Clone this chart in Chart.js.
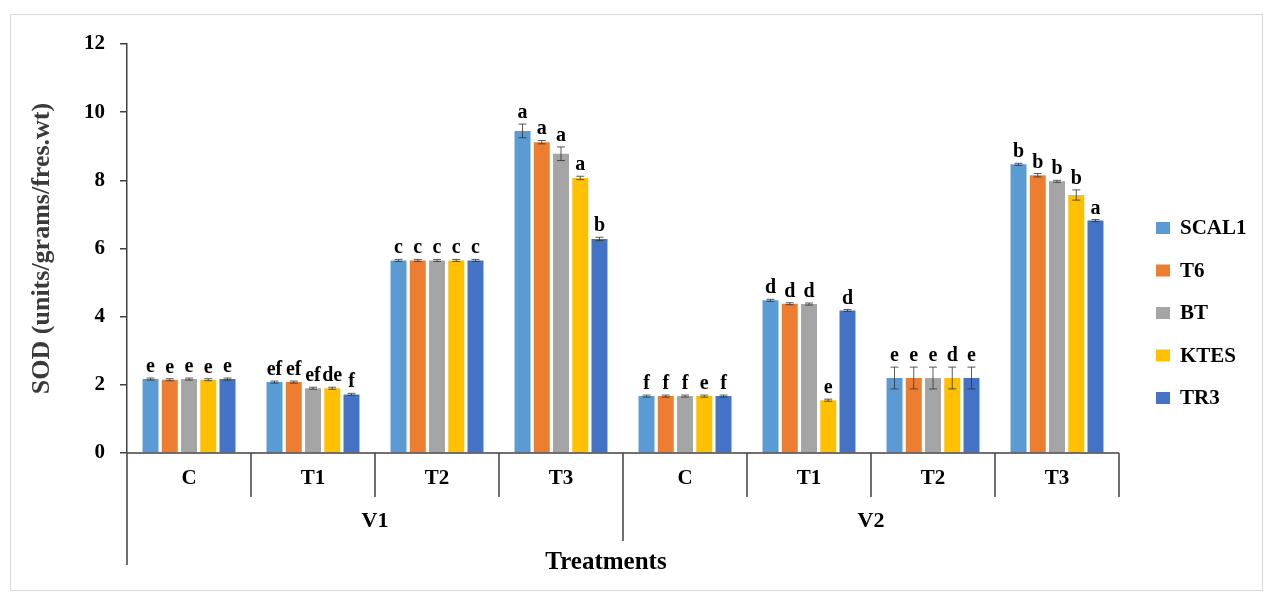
<!DOCTYPE html>
<html>
<head>
<meta charset="utf-8">
<title>SOD chart</title>
<script src="https://cdn.jsdelivr.net/npm/chart.js@4"></script>
<style>
  html, body { margin: 0; padding: 0; background: #fff; }
  #wrap { position: relative; width: 1273px; height: 597px; }
</style>
</head>
<body>
<div id="wrap"><canvas id="sodChart" width="1273" height="597"></canvas></div>
<script>
// categories (treatment within variety) and the variety groups
const categories = ['C', 'T1', 'T2', 'T3', 'C', 'T1', 'T2', 'T3'];
const groups = ['V1', 'V2'];
const seriesNames = ['SCAL1', 'T6', 'BT', 'KTES', 'TR3'];
const seriesColors = ['#5B9BD5', '#ED7D31', '#A5A5A5', '#FFC000', '#4472C4'];
const yTicks = [0, 2, 4, 6, 8, 10, 12];

// SOD values
const scal1 = [2.17, 2.08, 5.65, 9.45, 1.67, 4.48, 2.20, 8.47];
const t6    = [2.15, 2.08, 5.65, 9.12, 1.67, 4.38, 2.20, 8.15];
const bt    = [2.17, 1.90, 5.65, 8.78, 1.67, 4.37, 2.20, 7.97];
const ktes  = [2.15, 1.90, 5.65, 8.07, 1.67, 1.55, 2.20, 7.57];
const tr3   = [2.17, 1.72, 5.65, 6.28, 1.67, 4.18, 2.20, 6.82];

// error bar half widths
const scal1Err = [0.03, 0.03, 0.03, 0.20, 0.03, 0.03, 0.32, 0.03];
const t6Err    = [0.03, 0.03, 0.03, 0.05, 0.03, 0.03, 0.32, 0.05];
const btErr    = [0.03, 0.03, 0.03, 0.20, 0.03, 0.03, 0.32, 0.03];
const ktesErr  = [0.03, 0.03, 0.03, 0.05, 0.03, 0.03, 0.32, 0.15];
const tr3Err   = [0.03, 0.03, 0.03, 0.05, 0.03, 0.03, 0.32, 0.03];

// significance letters
const scal1Let = ['e', 'ef', 'c', 'a', 'f', 'd', 'e', 'b'];
const t6Let    = ['e', 'ef', 'c', 'a', 'f', 'd', 'e', 'b'];
const btLet    = ['e', 'ef', 'c', 'a', 'f', 'd', 'e', 'b'];
const ktesLet  = ['e', 'de', 'c', 'a', 'e', 'e', 'd', 'b'];
const tr3Let   = ['e', 'f', 'c', 'b', 'f', 'd', 'e', 'a'];

const seriesValues = [scal1, t6, bt, ktes, tr3];
const seriesErrors = [scal1Err, t6Err, btErr, ktesErr, tr3Err];
const seriesLetters = [scal1Let, t6Let, btLet, ktesLet, tr3Let];

const SERIF = '"Liberation Serif", "Times New Roman", serif';

const extrasPlugin = {
  id: 'extras',
  afterDatasetsDraw(chart) {
    const ctx = chart.ctx;
    const y = chart.scales.y;

    // error bars + letters
    ctx.save();
    chart.data.datasets.forEach((ds, di) => {
      const meta = chart.getDatasetMeta(di);
      meta.data.forEach((bar, i) => {
        const v = ds.data[i];
        const e = seriesErrors[di][i];
        const yTop = y.getPixelForValue(v + e);
        const yBot = y.getPixelForValue(v - e);
        ctx.strokeStyle = 'rgba(50,50,50,0.8)';
        ctx.lineWidth = 1;
        ctx.beginPath();
        ctx.moveTo(bar.x, yTop); ctx.lineTo(bar.x, yBot);
        ctx.moveTo(bar.x - 4, yTop); ctx.lineTo(bar.x + 4, yTop);
        ctx.moveTo(bar.x - 4, yBot); ctx.lineTo(bar.x + 4, yBot);
        ctx.stroke();

        ctx.fillStyle = '#000';
        ctx.font = 'bold 20px ' + SERIF;
        ctx.textAlign = 'center';
        ctx.textBaseline = 'alphabetic';
        ctx.fillText(seriesLetters[di][i], bar.x, yTop - 6);
      });
    });
    ctx.restore();
  },
  afterDraw(chart) {
    const ctx = chart.ctx;
    const area = chart.chartArea;
    const x = chart.scales.x;
    const n = categories.length;
    const step = (area.right - area.left) / n;

    ctx.save();
    ctx.strokeStyle = '#404040';
    ctx.lineWidth = 1.5;

    // x axis line
    ctx.beginPath();
    ctx.moveTo(area.left, area.bottom);
    ctx.lineTo(area.right, area.bottom);
    ctx.stroke();

    // category separators (long at group edges)
    for (let i = 0; i <= n; i++) {
      const bx = area.left + i * step;
      let len = 44;
      if (i === 0) len = 112;
      else if (i === n / 2) len = 88;
      ctx.beginPath();
      ctx.moveTo(bx, area.bottom);
      ctx.lineTo(bx, area.bottom + len);
      ctx.stroke();
    }

    ctx.fillStyle = '#000';
    ctx.textAlign = 'center';
    ctx.textBaseline = 'middle';
    ctx.font = 'bold 21px ' + SERIF;
    categories.forEach((c, i) => {
      ctx.fillText(c, x.getPixelForValue(i), area.bottom + 26);
    });

    ctx.font = 'bold 22px ' + SERIF;
    const half = (area.right - area.left) / groups.length;
    groups.forEach((g, i) => {
      ctx.fillText(g, area.left + half * (i + 0.5), area.bottom + 68);
    });

    ctx.font = 'bold 25px ' + SERIF;
    ctx.fillText('Treatments', (area.left + area.right) / 2 - 17, area.bottom + 110);

    // legend
    ctx.font = 'bold 21px ' + SERIF;
    ctx.textAlign = 'left';
    seriesNames.forEach((name, i) => {
      const ly = 228 + i * 42.5;
      ctx.fillStyle = seriesColors[i];
      ctx.fillRect(1156, ly - 6, 14, 12);
      ctx.fillStyle = '#000';
      ctx.fillText(name, 1180, ly + 1);
    });

    // outer frame
    ctx.strokeStyle = '#d9d9d9';
    ctx.lineWidth = 1;
    ctx.strokeRect(10.5, 14.5, 1252, 576);
    ctx.restore();
  }
};

new Chart(document.getElementById('sodChart'), {
  type: 'bar',
  data: {
    labels: categories,
    datasets: seriesNames.map((name, i) => ({
      label: name,
      data: seriesValues[i],
      backgroundColor: seriesColors[i],
      borderWidth: 0,
      barPercentage: 0.83,
      categoryPercentage: 0.776
    }))
  },
  options: {
    responsive: false,
    animation: false,
    layout: { padding: { left: 0, top: 44, right: 154, bottom: 144 }, autoPadding: false },
    plugins: {
      legend: { display: false },
      tooltip: { enabled: false }
    },
    scales: {
      x: { display: false },
      y: {
        min: 0,
        max: 12,
        afterFit: (s) => { s.width = 127; },
        afterBuildTicks: (s) => { s.ticks = yTicks.map(v => ({ value: v })); },
        ticks: {
          color: '#000',
          padding: 15,
          font: { family: SERIF, size: 21, weight: 'bold' }
        },
        grid: { drawOnChartArea: false, drawTicks: true, tickLength: 7, color: '#404040', lineWidth: 1.5 },
        border: { display: true, color: '#404040', width: 1.5 },
        title: {
          display: true,
          text: 'SOD (units/grams/fres.wt)',
          color: '#3a3a3a',
          padding: { top: 27, bottom: 0 },
          font: { family: SERIF, size: 26, weight: 'bold' }
        }
      }
    }
  },
  plugins: [extrasPlugin]
});
</script>
</body>
</html>
